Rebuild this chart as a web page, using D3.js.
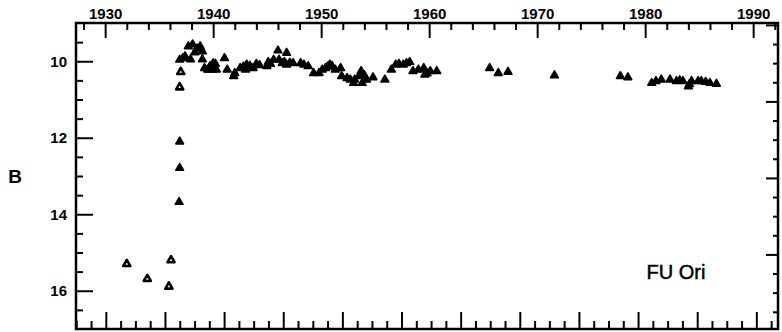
<!DOCTYPE html>
<html>
<head>
<meta charset="utf-8">
<script src="https://cdn.jsdelivr.net/npm/d3@7"></script>
<style>
  body { margin: 0; background: #fff; }
  svg { display: block; font-family: "Liberation Sans", Arial, sans-serif; }
</style>
</head>
<body>
<div id="chart"></div>
<script>
// FU Ori B-band light curve (year, B magnitude)
const openYears = [1932.0, 1933.9, 1935.9, 1936.1, 1936.9, 1937.0];
const openMags  = [15.28, 15.67, 15.87, 15.18, 10.66, 10.26];

const filledYears = [
    1936.9, 1936.9, 1936.85,
    1936.9, 1937.4, 1937.9, 1937.7, 1938.1, 1938.8, 1939.0, 1939.0, 1939.2, 1939.5, 1939.7, 1940.0, 1940.0,
    1938.3, 1939.9, 1940.3, 1939.6, 1940.2, 1937.2, 1938.5,
    1941.05, 1941.3, 1941.9, 1942.0, 1942.5, 1943.0, 1943.1, 1943.7, 1944.0, 1944.97, 1945.1, 1945.6,
    1942.8, 1943.4, 1944.3, 1945.3, 1946.6, 1947.1,
    1946.0, 1946.1, 1946.4, 1946.8, 1946.8, 1947.4, 1948.1, 1948.4, 1948.8, 1949.3, 1949.8, 1950.1,
    1950.4, 1950.8, 1951.3, 1951.8, 1951.9, 1952.4, 1952.7, 1953.0, 1953.1, 1953.5, 1953.7, 1953.8,
    1954.0, 1950.6, 1951.0,
    1954.2, 1954.8, 1955.9, 1956.5, 1956.9, 1957.6, 1957.9, 1958.5, 1959.0, 1959.5, 1959.6, 1960.1,
    1957.2, 1958.2, 1959.8,
    1960.7, 1965.6, 1966.4, 1967.3, 1971.6, 1977.7, 1978.4, 1980.6, 1981.5, 1982.3, 1982.9, 1983.5,
    1984.0, 1984.3, 1984.9, 1985.6, 1986.0, 1986.6,
    1981.0, 1983.2, 1984.1, 1985.2
];
const filledMags = [
    12.08, 12.77, 13.66,
    9.94, 9.85, 9.93, 9.59, 9.54, 9.59, 9.72, 9.93, 10.16, 10.2, 10.11, 10.03, 10.2,
    9.75, 10.1, 10.2, 10.2, 10.05, 9.9, 9.65,
    9.9, 10.2, 10.37, 10.29, 10.16, 10.2, 10.07, 10.16, 10.05, 10.11, 10.0, 9.94,
    10.12, 10.1, 10.08, 10.05, 10.0, 10.02,
    9.7, 9.94, 10.03, 9.76, 10.07, 10.03, 10.03, 10.07, 10.11, 10.29, 10.29, 10.2,
    10.16, 10.07, 10.2, 10.16, 10.37, 10.42, 10.46, 10.55, 10.46, 10.37, 10.24, 10.55,
    10.35, 10.12, 10.1,
    10.46, 10.4, 10.46, 10.2, 10.07, 10.07, 10.03, 10.24, 10.2, 10.16, 10.33, 10.24,
    10.05, 10.0, 10.3,
    10.24, 10.16, 10.29, 10.26, 10.35, 10.37, 10.4, 10.55, 10.46, 10.46, 10.5, 10.5,
    10.64, 10.5, 10.5, 10.52, 10.55, 10.57,
    10.5, 10.48, 10.58, 10.5
];

const yearLabels = [1930, 1940, 1950, 1960, 1970, 1980, 1990];
const magLabels = [10, 12, 14, 16];
const starName = "FU Ori";
const yLabel = "B";

const W = 782, H = 332;
const mLeft = 76, mRight = 778, mTop = 23, mBottom = 329;

const svg = d3.select("#chart").append("svg")
    .attr("width", W).attr("height", H);

const x = d3.scaleLinear().domain([1927.3, 1992.3]).range([mLeft, mRight]);
const y = d3.scaleLinear().domain([9, 17]).range([mTop, mBottom]);

// secondary scales for the unlabeled bottom (JD) and right axes
const jd = d3.scaleLinear()
    .domain(x.domain().map(yr => 2425977.5 + (yr - 1930) * 365.25))
    .range([mLeft, mRight]);
const yr2 = d3.scaleLinear().domain([8.95, 16.95]).range([mTop, mBottom]);

const tickStyle = g => {
    g.select(".domain").remove();
    g.selectAll("line").attr("stroke", "#000").attr("stroke-width", 2);
    g.selectAll("text").attr("font-size", 15).attr("font-weight", "bold").attr("fill", "#000");
};

// top axis: major every 10 yr, minor every 2 yr
svg.append("g").attr("transform", `translate(0,${mTop})`)
    .call(d3.axisTop(x).tickValues(d3.range(1928, 1993, 2).filter(v => v % 10 !== 0))
        .tickSize(-7).tickFormat(""))
    .call(tickStyle);
svg.append("g").attr("transform", `translate(0,${mTop})`)
    .call(d3.axisTop(x).tickValues(yearLabels).tickSize(-15).tickFormat(d3.format("d")))
    .call(tickStyle)
    .call(g => g.selectAll("text").attr("y", -4).attr("dy", 0));

// left axis: major at even magnitudes, minor every 0.5
svg.append("g").attr("transform", `translate(${mLeft},0)`)
    .call(d3.axisLeft(y).tickValues(d3.range(9.5, 17, 0.5).filter(v => !magLabels.includes(v)))
        .tickSize(-7).tickFormat(""))
    .call(tickStyle);
svg.append("g").attr("transform", `translate(${mLeft},0)`)
    .call(d3.axisLeft(y).tickValues(magLabels).tickSize(-17).tickFormat(d3.format("d")))
    .call(tickStyle)
    .call(g => g.selectAll("text").attr("x", -9));

// bottom axis (JD): major every 2000 d, minor every 500 d
const jdMin = Math.ceil(jd.domain()[0] / 500) * 500;
const jdTicks = d3.range(jdMin, jd.domain()[1], 500);
svg.append("g").attr("transform", `translate(0,${mBottom})`)
    .call(d3.axisBottom(jd).tickValues(jdTicks.filter(v => v % 2000 !== 0)).tickSize(-8).tickFormat(""))
    .call(tickStyle);
svg.append("g").attr("transform", `translate(0,${mBottom})`)
    .call(d3.axisBottom(jd).tickValues(jdTicks.filter(v => v % 2000 === 0)).tickSize(-17).tickFormat(""))
    .call(tickStyle);

// right axis
svg.append("g").attr("transform", `translate(${mRight},0)`)
    .call(d3.axisRight(yr2).tickValues(d3.range(9.5, 17, 0.5).filter(v => v % 2 !== 1))
        .tickSize(-5).tickFormat(""))
    .call(tickStyle);
svg.append("g").attr("transform", `translate(${mRight},0)`)
    .call(d3.axisRight(yr2).tickValues([9, 11, 13, 15]).tickSize(-12).tickFormat(""))
    .call(tickStyle);

// frame
svg.append("rect")
    .attr("x", mLeft).attr("y", mTop)
    .attr("width", mRight - mLeft).attr("height", mBottom - mTop)
    .attr("fill", "none").attr("stroke", "#000").attr("stroke-width", 2.5);

// points
const tri = d3.symbol(d3.symbolTriangle, 26);
const pts = svg.append("g");
pts.selectAll("path.filled")
    .data(d3.zip(filledYears, filledMags))
    .join("path")
    .attr("class", "filled")
    .attr("transform", d => `translate(${x(d[0])},${y(d[1]) + 0.8})`)
    .attr("d", tri)
    .attr("fill", "#000").attr("stroke", "#000").attr("stroke-width", 1.6)
    .attr("stroke-linejoin", "round");
pts.selectAll("path.open")
    .data(d3.zip(openYears, openMags))
    .join("path")
    .attr("class", "open")
    .attr("transform", d => `translate(${x(d[0])},${y(d[1]) + 0.8})`)
    .attr("d", d3.symbol(d3.symbolTriangle, 22))
    .attr("fill", "#fff").attr("stroke", "#000").attr("stroke-width", 2.6)
    .attr("stroke-linejoin", "round");

// labels
svg.append("text")
    .attr("x", 15).attr("y", y(13.05))
    .attr("text-anchor", "middle").attr("dominant-baseline", "middle")
    .attr("font-size", 19).attr("font-weight", "bold")
    .text(yLabel);

svg.append("text")
    .attr("x", 676).attr("y", y(15.55))
    .attr("text-anchor", "middle").attr("dominant-baseline", "middle")
    .attr("font-size", 20).attr("stroke", "#000").attr("stroke-width", 0.5)
    .text(starName);
</script>
</body>
</html>
